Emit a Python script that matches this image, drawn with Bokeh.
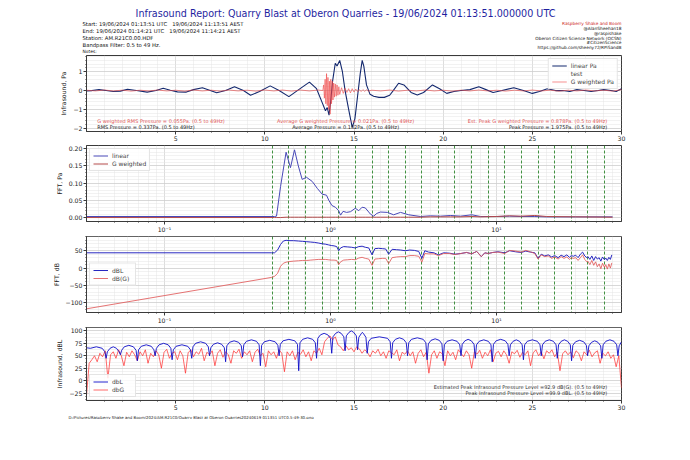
from bokeh.plotting import figure
from bokeh.layouts import column
from bokeh.models import FixedTicker, Legend, LegendItem, Range1d, Title
from bokeh.core.properties import value
from bokeh.embed import file_html
from bokeh.resources import INLINE

FONT = "DejaVu Sans"
NB3 = "\u00a0\u00a0\u00a0"

# ---------------- texts ----------------
title_text = "Infrasound Report: Quarry Blast at Oberon Quarries - 19/06/2024 01:13:51.000000 UTC"
header_left = ["Start: 19/06/2024 01:13:51 UTC" + NB3 + "19/06/2024 11:13:51 AEST",
               "End: 19/06/2024 01:14:21 UTC" + NB3 + "19/06/2024 11:14:21 AEST",
               "Station: AM.R21C0.00.HDF",
               "Bandpass Filter: 0.5 to 49 Hz."]
notes_text = "Notes:"
header_right = ["Raspberry Shake and Boom", "@AlanSheehan18", "@raspishake",
                "Oberon Citizen Science Network (OCSN)", "#CitizenScience",
                "https://github.com/sheeny72/RPiSandB"]
footer_text = "D:/Pictures/Raspberry Shake and Boom/2024/AM.R21C0/Quarry Blast at Oberon Quarries20240619 011351 UTC0.5-49-30.png"

# ---------------- panel 1: infrasound, Pa ----------------
t_lin = [0.0, 0.3, 0.7, 1.1, 1.5, 1.9, 2.3, 2.8, 3.4, 3.9,
         4.3, 4.7, 5.1, 5.6, 6.0, 6.5, 6.9, 7.3, 7.8, 8.3,
         8.8, 9.2, 9.7, 10.3, 10.8, 11.35, 11.9, 12.5, 12.9, 13.2,
         13.4, 13.5, 13.6, 13.7, 13.8, 13.95, 14.05, 14.2, 14.35, 14.5,
         14.7, 14.9, 15.05, 15.2, 15.35, 15.46, 15.55, 15.7, 15.9, 16.1,
         16.4, 16.7, 17.0, 17.2, 17.5, 17.8, 18.2, 18.55, 18.9, 19.4,
         19.8, 20.2, 20.6, 21.0, 21.5, 22.0, 22.4, 22.8, 23.3, 23.96,
         24.5, 25.0, 25.4, 25.84, 26.3, 26.7, 27.1, 27.5, 27.9, 28.3,
         28.7, 29.0, 29.4, 29.7, 30.0]
p_lin = [-0.02, 0.0, 0.05, 0.0, -0.05, -0.03, 0.07, 0.0, -0.08, 0.0,
         0.12, 0.02, -0.07, -0.08, 0.05, 0.15, 0.02, -0.12, 0.0, 0.2,
         0.0, -0.25, -0.05, 0.25, 0.0, -0.32, 0.05, 0.45, 0.1, -0.6,
         -1.07, -0.9, -1.3, -0.5, 0.5, 1.45, 1.3, 1.6, 1.0, 0.0,
         -1.0, -1.95, -1.5, -0.3, 0.9, 1.6, 1.3, 0.3, -0.2, -0.3,
         -0.36, -0.36, -0.25, 0.0, 0.39, 0.3, -0.1, -0.23, -0.1, 0.3,
         0.1, -0.15, -0.05, 0.0, 0.05, 0.2, 0.05, -0.1, 0.0, 0.15,
         0.0, -0.15, -0.05, 0.1, 0.0, 0.0, -0.05, 0.05, 0.0, -0.05,
         0.0, 0.05, 0.0, -0.05, 0.1]
t_gw = [0.0, 0.5, 1.0, 1.5, 2.0, 2.5, 3.0, 3.5, 4.0, 4.5, 5.0, 5.5, 6.0, 6.5,
        7.0, 7.5, 8.0, 8.5, 9.0, 9.5, 10.0, 10.5, 11.0, 11.5, 12.0, 12.5, 13.0, 13.25,
        13.3, 13.34, 13.38, 13.42, 13.46, 13.5, 13.54, 13.58, 13.62, 13.66,
        13.7, 13.74, 13.78, 13.82, 13.86, 13.9, 13.95, 14.0, 14.05, 14.1,
        14.15, 14.2, 14.3, 14.4, 14.5, 14.6, 14.7, 14.8, 14.9, 15.0,
        15.1, 15.2, 15.3, 15.4, 15.5, 15.6, 15.7, 15.8, 16.0,
        16.5, 17.0, 17.5, 18.0, 18.5, 19.0, 19.5, 20.0, 20.5, 21.0, 21.5, 22.0, 22.5, 23.0,
        23.5, 24.0, 24.5, 25.0, 25.5, 26.0, 26.5, 27.0, 27.5, 28.0, 28.5, 29.0, 29.5, 30.0]
p_gw = [0.02, -0.02, 0.03, -0.02, 0.02, -0.03, 0.02, -0.02, 0.03, -0.02, 0.02, -0.03, 0.03, -0.02,
        0.02, -0.03, 0.03, -0.02, 0.02, -0.03, 0.03, -0.02, 0.03, -0.03, 0.03, -0.02, 0.03, 0.0,
        0.3, -0.4, 0.6, -0.7, 0.9, -0.8, 0.7, -1.0, 0.5, -1.25,
        0.6, -0.7, 0.5, -0.5, 0.4, -0.35, 0.35, -0.3, 0.3, -0.25,
        0.2, -0.2, 0.15, -0.15, 0.12, -0.1, 0.1, -0.12, 0.1, -0.08,
        0.08, -0.06, 0.05, -0.05, 0.05, -0.04, 0.04, -0.03, 0.02,
        -0.02, 0.03, -0.03, 0.02, -0.02, 0.03, -0.02, 0.02, -0.03, 0.02, -0.02, 0.03, -0.02, 0.02,
        -0.03, 0.02, -0.02, 0.03, -0.02, 0.02, -0.03, 0.02, -0.02, 0.03, -0.02, 0.02, -0.03, 0.05]

p1_notes_left = ["G weighted RMS Pressure = 0.055Pa. (0.5 to 49Hz)", "RMS Pressure = 0.337Pa. (0.5 to 49Hz)"]
p1_notes_mid = ["Average G weighted Pressure = 0.021Pa. (0.5 to 49Hz)", "Average Pressure = 0.182Pa. (0.5 to 49Hz)"]
p1_notes_right = ["Est. Peak G weighted Pressure = 0.878Pa. (0.5 to 49Hz)", "Peak Pressure = 1.975Pa. (0.5 to 49Hz)"]

# ---------------- panel 2: FFT, Pa ----------------
f2 = [0.0333, 0.46, 0.473, 0.50, 0.54, 0.574, 0.607, 0.64, 0.675, 0.717,
      0.776, 0.832, 0.891, 0.946, 0.977, 1.02, 1.07, 1.12, 1.15, 1.19,
      1.25, 1.32, 1.41, 1.48, 1.55, 1.62, 1.74, 1.82, 1.9, 2.0,
      2.2, 2.4, 2.64, 2.96, 3.48, 4.0, 4.6, 5.3, 6.06, 7.1,
      8.0, 10.0, 12.0, 14.0, 17.0, 20.0, 30.0, 50.0]
fft_lin = [0.003, 0.003, 0.004, 0.09, 0.19, 0.145, 0.197, 0.15, 0.111, 0.117,
           0.105, 0.085, 0.068, 0.065, 0.05, 0.035, 0.03, 0.02, 0.007, 0.018,
           0.015, 0.017, 0.027, 0.02, 0.03, 0.028, 0.01, 0.004, 0.012, 0.016,
           0.015, 0.008, 0.015, 0.008, 0.003, 0.005, 0.004, 0.006, 0.004, 0.008,
           0.003, 0.003, 0.004, 0.003, 0.003, 0.002, 0.002, 0.002]
fft_gw = [0.0, 0.0, 0.0, 0.0, 0.001, 0.001, 0.001, 0.001, 0.001, 0.001,
          0.001, 0.001, 0.001, 0.001, 0.001, 0.001, 0.001, 0.001, 0.001, 0.001,
          0.001, 0.001, 0.001, 0.001, 0.001, 0.001, 0.001, 0.001, 0.001, 0.001,
          0.001, 0.001, 0.001, 0.001, 0.001, 0.002, 0.002, 0.002, 0.002, 0.003,
          0.002, 0.003, 0.005, 0.004, 0.006, 0.003, 0.002, 0.001]
band_edges = [0.447, 0.562, 0.708, 0.891, 1.12, 1.41, 1.78, 2.24, 2.82, 3.55, 4.47,
              5.62, 7.08, 8.91, 11.2, 14.1, 17.8, 22.4, 28.2, 35.5, 44.7]

# ---------------- panel 3: FFT, dB ----------------
f3 = [0.0333, 0.44, 0.46, 0.48, 0.50, 0.52, 0.54, 0.57, 0.60, 0.64,
      0.68, 0.72, 0.76, 0.80, 0.85, 0.89, 0.93, 0.97, 1.01, 1.05,
      1.09, 1.12, 1.15, 1.20, 1.27, 1.34, 1.41, 1.48, 1.55, 1.62,
      1.70, 1.78, 1.85, 1.95, 2.05, 2.15, 2.24, 2.35, 2.50, 2.65,
      2.82, 3.00, 3.20, 3.40, 3.55, 3.70, 3.90, 4.20, 4.47, 4.80,
      5.20, 5.62, 6.10, 6.60, 7.08, 7.60, 8.10, 8.50, 8.91, 9.50,
      10.2, 11.2, 12.0, 13.0, 14.1, 15.0, 16.0, 17.0, 17.8, 18.6,
      19.5, 20.5, 21.5, 22.4, 23.5, 24.5, 25.5, 26.5, 27.5, 28.2,
      29.0, 30.0, 31.0, 32.0, 33.0, 34.0, 35.0, 35.5, 36.5, 37.5,
      38.5, 39.5, 40.5, 41.5, 42.5, 43.5, 44.7, 45.5, 46.5, 47.5, 48.5, 49.5]
dbl3 = [44, 44, 44, 52, 68, 78, 80, 79, 79, 78,
        77, 76, 75, 74, 72, 70, 69, 67, 65, 64,
        62, 50, 58, 62, 61, 60, 58, 62, 63, 60,
        58, 38, 56, 57, 56, 55, 40, 54, 53, 52,
        50, 52, 51, 48, 28, 50, 46, 44, 38, 44,
        43, 40, 42, 45, 41, 48, 33, 44, 42, 45,
        47, 44, 50, 47, 45, 49, 46, 44, 28, 40,
        35, 38, 32, 36, 30, 37, 33, 38, 31, 36,
        34, 37, 30, 40, 46, 35, 30, 33, 25, 35,
        22, 33, 26, 30, 20, 32, 24, 29, 22, 31, 25, 38]
dbg3 = [-118, -27, -24, -15, 5, 14, 17, 19, 20, 21,
        22, 22, 23, 24, 25, 25, 25, 24, 23, 23,
        22, 10, 18, 23, 24, 25, 24, 29, 31, 28,
        26, 8, 26, 27, 28, 28, 13, 30, 32, 33,
        33, 36, 36, 34, 17, 42, 41, 41, 36, 42,
        42, 39, 42, 45, 41, 48, 33, 44, 42, 45,
        46, 42, 51, 49, 46, 51, 47, 42, 26, 38,
        33, 35, 28, 32, 26, 33, 28, 32, 25, 30,
        28, 30, 22, 30, 38, 25, 18, 20, 10, 22,
        8, 18, 4, 12, -2, 14, 2, 10, -3, 12, 0, 15]

# ---------------- panel 4: infrasound, dBL ----------------
t_dbl = [0.0, 0.22, 0.55, 0.88, 1.03,
         1.1, 1.17, 1.32, 1.5, 1.68, 1.83,
         1.9, 1.97, 2.12, 2.375, 2.63, 2.78,
         2.85, 2.92, 3.07, 3.35, 3.63, 3.78,
         3.85, 3.92, 4.07, 4.325, 4.58, 4.73,
         4.8, 4.87, 5.02, 5.35, 5.68, 5.83,
         5.9, 5.97, 6.12, 6.4, 6.68, 6.83,
         6.9, 6.97, 7.12, 7.35, 7.58, 7.73,
         7.8, 7.87, 8.02, 8.275, 8.53, 8.68,
         8.75, 8.82, 8.97, 9.25, 9.53, 9.68,
         9.75, 9.82, 9.97, 10.275, 10.58, 10.73,
         10.8, 10.87, 11.02, 11.35, 11.68, 11.83,
         11.9, 11.97, 12.12, 12.4, 12.68, 12.83,
         12.9, 12.97, 13.12, 13.325, 13.53, 13.68,
         13.75, 13.82, 13.97, 14.125, 14.28, 14.43,
         14.5, 14.57, 14.72, 14.85, 14.98, 15.13,
         15.2, 15.27, 15.4, 15.47, 15.54, 15.67,
         15.74, 15.81, 15.96, 16.42, 16.88, 17.03,
         17.1, 17.17, 17.32, 17.55, 17.78, 17.93,
         18.0, 18.07, 18.22, 18.55, 18.88, 19.03,
         19.1, 19.17, 19.32, 19.55, 19.78, 19.93,
         20.0, 20.07, 20.22, 20.5, 20.78, 20.93,
         21.0, 21.07, 21.22, 21.4, 21.58, 21.73,
         21.8, 21.87, 22.02, 22.275, 22.53, 22.68,
         22.75, 22.82, 22.97, 23.225, 23.48, 23.63,
         23.7, 23.77, 23.92, 24.1, 24.28, 24.43,
         24.5, 24.57, 24.72, 25.0, 25.28, 25.43,
         25.5, 25.57, 25.72, 25.95, 26.18, 26.33,
         26.4, 26.47, 26.62, 26.8, 26.98, 27.13,
         27.2, 27.27, 27.42, 27.65, 27.88, 28.03,
         28.1, 28.17, 28.32, 28.5, 28.68, 28.83,
         28.9, 28.97, 29.12, 29.35, 29.58, 29.73,
         29.8, 29.87, 30.0]
v_dbl = [66, 65, 68, 65, 58,
         45, 58, 65, 68, 65, 58,
         52, 61, 68, 71, 68, 61,
         40, 62, 69, 72, 69, 62,
         50, 65, 72, 75, 72, 65,
         42, 62, 69, 72, 69, 62,
         45, 68, 75, 78, 75, 68,
         50, 66, 73, 76, 73, 66,
         38, 70, 77, 80, 77, 70,
         48, 72, 79, 82, 79, 72,
         30, 71, 78, 81, 78, 71,
         50, 73, 80, 83, 80, 73,
         20, 76, 83, 86, 83, 76,
         45, 85, 92, 95, 92, 85,
         55, 88, 95, 98, 95, 88,
         60, 90, 97, 99.9, 97, 90,
         62, 87, 94, 97, 94, 87,
         55, 78, 85, 88, 85, 78,
         45, 76, 83, 86, 83, 76,
         50, 76, 83, 86, 83, 76,
         42, 74, 81, 84, 81, 74,
         40, 72, 79, 82, 79, 72,
         50, 73, 80, 83, 80, 73,
         45, 72, 79, 82, 79, 72,
         38, 73, 80, 83, 80, 73,
         50, 72, 79, 82, 79, 72,
         42, 72, 79, 82, 79, 72,
         50, 72, 79, 82, 79, 72,
         45, 72, 79, 82, 79, 72,
         40, 71, 78, 81, 78, 71,
         50, 70, 77, 80, 77, 70,
         45, 72, 79, 82, 79, 72,
         50, 70, 78]
# dB(G) samples every 0.15 s from 0 s to 30 s
dbg_step = 0.15
v_dbg = [-30, 35, 42, 50, 38, 55, 48, 60, 5, 52, 58, 45, 62, 50, 30, 57, 48, 60, 52, 40,
         58, 50, 62, 35, 55, 48, 60, 52, 25, 57, 63, 45, 55, 58, 42, 60, 50, 15, 56, 62,
         48, 58, 53, 65, 40, 57, 52, 60, 30, 55, 62, 47, 58, 52, 35, 60, 55, 63, 45, 58,
         52, 60, 38, 57, 63, 50, 55, 28, 60, 52, 58, 45, 62, 55, 18, 58, 50, 60, 42, 57,
         53, 62, 48, 58, 40, 60, 55, 65, 52, 78, 85, 90, 82, 88, 72, 68, 60, 70, 62, 66,
         58, 68, 64, 55, 62, 57, 48, 60, 55, 63, 50, 58, 45, 60, 56, 52, 62, 40, 57, 53,
         60, 50, 58, 35, 55, 62, 48, 57, 15, 52, 60, 45, 58, 54, 30, 60, 50, 57, 42, 62,
         55, 48, 60, 52, 25, 58, 53, 61, 45, 57, 50, 62, 38, 55, 59, 48, 60, 52, 35, 58,
         54, 61, 47, 57, 52, 60, 30, 56, 62, 50, 58, 44, 60, 55, 62, 48, 57, 20, 54, 60,
         52, 58, 46, 60, 55, 40, 58, 52, 61, 48, 56, 60, 35, 55, 50, 58, 45, 52, 28, 50,
         -15]
t_dbg = [round(i * dbg_step, 2) for i in range(len(v_dbg))]
p4_notes = ["Estimated Peak Infrasound Pressure Level =92.9 dB(G). (0.5 to 49Hz)",
            "Peak Infrasound Pressure Level =99.9 dBL. (0.5 to 49Hz)"]

# ---------------- styling helpers ----------------
W = 690
AX = "#3a3a3a"
TICKFS = "6.2px"


def base_fig(height, bottom, xr, yr, x_type="linear"):
    p = figure(width=W, height=height, x_range=xr, y_range=yr, x_axis_type=x_type,
               output_backend="svg", toolbar_location=None,
               min_border_left=86, min_border_right=69, min_border_top=0,
               min_border_bottom=bottom)
    p.outline_line_color = AX
    p.outline_line_width = 1
    for ax in [p.xaxis[0], p.yaxis[0]]:
        ax.axis_line_color = AX
        ax.major_tick_line_color = AX
        ax.minor_tick_line_color = AX
        ax.major_tick_out = 3
        ax.major_tick_in = 0
        ax.minor_tick_out = 1
        ax.minor_tick_in = 0
        ax.major_label_text_font = FONT
        ax.major_label_text_font_size = TICKFS
        ax.major_label_text_color = "#222222"
        ax.major_label_standoff = 1
        ax.axis_label_text_font = FONT
        ax.axis_label_text_font_size = TICKFS
        ax.axis_label_text_font_style = "normal"
        ax.axis_label_text_color = "#222222"
        ax.axis_label_standoff = 3
    for g in [p.xgrid[0], p.ygrid[0]]:
        g.grid_line_color = "#c6c6c6"
        g.grid_line_width = 0.6
        g.minor_grid_line_color = "#e4e4e4"
        g.minor_grid_line_width = 0.5
    return p


def add_legend(p, items, loc):
    lg = Legend(items=items, location=loc)
    lg.label_text_font = FONT
    lg.label_text_font_size = "6px"
    lg.glyph_width = 15
    lg.glyph_height = 7
    lg.label_height = 7
    lg.spacing = 1
    lg.padding = 3
    lg.margin = 3
    lg.label_standoff = 4
    lg.border_line_color = "#cccccc"
    lg.background_fill_alpha = 0.85
    p.add_layout(lg)


def texts(p, x, y, txt, align, colors, fs="5px"):
    p.text(x=x, y=y, text=txt, text_font=value(FONT), text_font_size=fs,
           text_color=colors, text_align=align, text_baseline="middle")


time_minor = [m for m in range(1, 30) if m % 5 != 0]
log_minor = [0.04, 0.05, 0.06, 0.07, 0.08, 0.09, 0.2, 0.3, 0.4, 0.5, 0.6, 0.7, 0.8, 0.9,
             2, 3, 4, 5, 6, 7, 8, 9, 20, 30, 40, 50]
log_labels = {0.1: "10\u207b\u00b9", 1: "10\u2070", 10: "10\u00b9"}

# ---------------- header (full-width frame, x/y in page pixels) ----------------
hdr = figure(width=W, height=55, x_range=Range1d(0, W), y_range=Range1d(55, 0),
             output_backend="svg", toolbar_location=None, min_border=0,
             x_axis_location=None, y_axis_location=None, outline_line_color=None)
hdr.xgrid.visible = False
hdr.ygrid.visible = False
texts(hdr, [345], [13], [title_text], "center", ["#1f1f9f"], "9.6px")
texts(hdr, [82, 82, 82, 82], [23.3, 30.0, 37.0, 44.0], header_left, "left", ["#111111"] * 4, "5.3px")
texts(hdr, [82], [51], [notes_text], "left", ["#111111"], "4.4px")
texts(hdr, [621] * 6, [23.3, 28.0, 32.7, 37.5, 42.0, 47.0], header_right, "right",
      ["#cc2222"] + ["#111111"] * 5, "4.3px")

# ---------------- panel 1 ----------------
p1 = base_fig(90, 14, Range1d(0, 30), Range1d(-2.17, 1.86))
p1.xaxis.ticker = FixedTicker(ticks=[5, 10, 15, 20, 25, 30], minor_ticks=time_minor)
p1.yaxis.ticker = FixedTicker(ticks=[-2, -1, 0, 1],
                              minor_ticks=[-2.0, -1.8, -1.6, -1.4, -1.2, -1.0, -0.8, -0.6, -0.4,
                                           -0.2, 0.0, 0.2, 0.4, 0.6, 0.8, 1.0, 1.2, 1.4, 1.6, 1.8])
p1.yaxis.major_label_overrides = {-2: "\u22122", -1: "\u22121", 0: "0", 1: "1"}
p1.yaxis.axis_label = "Infrasound, Pa"
r_lin = p1.line(t_lin, p_lin, line_color="#13286e", line_width=1.1)
r_test = p1.line(x=[], y=[], line_color="#86cf86", line_width=1)
r_gw = p1.line(t_gw, p_gw, line_color="#f04545", line_alpha=0.75, line_width=0.8)
note_cols = ["#e05555", "#222222"]
texts(p1, [0.6, 0.6], [-1.6, -1.94], p1_notes_left, "left", note_cols)
texts(p1, [14.53, 14.53], [-1.6, -1.94], p1_notes_mid, "center", note_cols)
texts(p1, [29.2, 29.2], [-1.6, -1.94], p1_notes_right, "right", note_cols)
add_legend(p1, [LegendItem(label="linear Pa", renderers=[r_lin]),
                LegendItem(label="test", renderers=[r_test]),
                LegendItem(label="G weighted Pa", renderers=[r_gw])], "top_right")

# ---------------- panel 2 ----------------
p2 = base_fig(91, 15, Range1d(0.0339, 56.6), Range1d(-0.0115, 0.2095), "log")
p2.xaxis.ticker = FixedTicker(ticks=[0.1, 1, 10], minor_ticks=log_minor)
p2.xaxis.major_label_overrides = log_labels
p2.yaxis.ticker = FixedTicker(ticks=[0.0, 0.05, 0.1, 0.15, 0.2],
                              minor_ticks=[i / 100 for i in range(0, 21)])
p2.yaxis.major_label_overrides = {0.0: "0.00", 0.05: "0.05", 0.1: "0.10", 0.15: "0.15", 0.2: "0.20"}
p2.yaxis.axis_label = "FFT, Pa"
p2.vspan(x=band_edges, line_color="#2e862e", line_dash="3 2", line_width=0.9)
r2a = p2.line(f2, fft_lin, line_color="#4848b8", line_width=1)
r2b = p2.line(f2, fft_gw, line_color="#b44a4a", line_width=1)
add_legend(p2, [LegendItem(label="linear", renderers=[r2a]),
                LegendItem(label="G weighted", renderers=[r2b])], "top_left")

# ---------------- panel 3 ----------------
p3 = base_fig(91, 15, Range1d(0.0339, 56.6), Range1d(-128, 91), "log")
p3.xaxis.ticker = FixedTicker(ticks=[0.1, 1, 10], minor_ticks=log_minor)
p3.xaxis.major_label_overrides = log_labels
p3.yaxis.ticker = FixedTicker(ticks=[-100, -50, 0, 50], minor_ticks=list(range(-120, 91, 10)))
p3.yaxis.major_label_overrides = {-100: "\u2212100", -50: "\u221250", 0: "0", 50: "50"}
p3.yaxis.axis_label = "FFT, dB"
p3.vspan(x=band_edges, line_color="#2e862e", line_dash="3 2", line_width=0.9)
r3a = p3.line(f3, dbl3, line_color="#2828c0", line_width=1)
r3b = p3.line(f3, dbg3, line_color="#e05a5a", line_alpha=0.85, line_width=1)
add_legend(p3, [LegendItem(label="dBL", renderers=[r3a]),
                LegendItem(label="dB(G)", renderers=[r3b])], "center_left")

# ---------------- panel 4 ----------------
p4 = base_fig(92, 18, Range1d(0, 30), Range1d(-39.7, 106.7))
p4.xaxis.ticker = FixedTicker(ticks=[5, 10, 15, 20, 25, 30], minor_ticks=time_minor)
p4.yaxis.ticker = FixedTicker(ticks=[-25, 0, 25, 50, 75, 100],
                              minor_ticks=[-37.5 + 6.25 * i for i in range(24)])
p4.yaxis.major_label_overrides = {-25: "\u221225", 0: "0", 25: "25", 50: "50", 75: "75", 100: "100"}
p4.yaxis.axis_label = "Infrasound, dBL"
r4b = p4.line(t_dbg, v_dbg, line_color="#ff3030", line_alpha=0.8, line_width=0.9)
r4a = p4.line(t_dbl, v_dbl, line_color="#0c0cc8", line_width=0.9)
texts(p4, [29.2, 29.2], [-12, -24], p4_notes, "right", ["#333333", "#333333"])
add_legend(p4, [LegendItem(label="dbL", renderers=[r4a]),
                LegendItem(label="dbG", renderers=[r4b])], "bottom_left")
p4.add_layout(Title(text=footer_text, align="left", offset=-18, standoff=0,
                    text_font=FONT, text_font_size="3.9px", text_font_style="normal",
                    text_color="#222222"), "below")

layout = column(hdr, column(p1, p2, p3, p4, spacing=0), spacing=0)
open("out.html", "w").write(file_html(layout, INLINE))
